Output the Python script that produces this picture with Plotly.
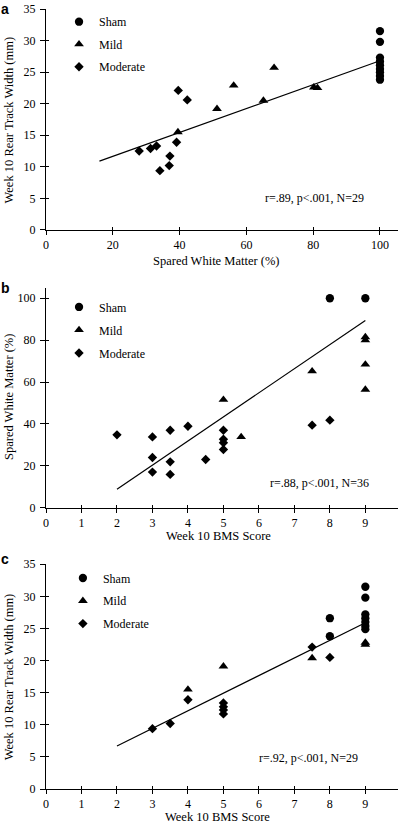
import plotly.graph_objects as go

# ---------------- data ----------------
# Panel a: Spared White Matter (%) vs Week 10 Rear Track Width (mm)
sham_a_x = [100, 100, 100, 100, 100, 100, 100, 100, 100]
sham_a_y = [31.5, 29.8, 27.3, 26.7, 26.1, 25.5, 25.0, 24.4, 23.8]
mild_a_x = [39.5, 51.2, 56.2, 65.1, 68.3, 80.2, 81.3]
mild_a_y = [15.5, 19.2, 22.9, 20.5, 25.7, 22.6, 22.5]
mod_a_x = [39.6, 42.3, 27.9, 31.3, 33.1, 34.1, 37.1, 36.9, 39.1]
mod_a_y = [22.1, 20.6, 12.5, 12.9, 13.3, 9.4, 11.7, 10.2, 13.9]
fit_a_x = [16, 100]
fit_a_y = [10.9, 26.8]

# Panel b: Week 10 BMS Score vs Spared White Matter (%)
sham_b_x = [8, 9]
sham_b_y = [100, 100]
mild_b_x = [9, 9, 9, 9, 7.5, 5, 5.5]
mild_b_y = [81.5, 80, 68.4, 56.4, 65.2, 51.6, 33.8]
mod_b_x = [2, 3, 3, 3, 3.5, 3.5, 3.5, 4, 4.5, 5, 5, 5, 5, 7.5, 8]
mod_b_y = [34.8, 33.8, 24, 17, 37, 21.9, 15.9, 38.9, 23, 37, 32.7, 31, 27.8, 39.4, 41.8]
fit_b_x = [2, 9]
fit_b_y = [8.8, 89.4]

# Panel c: Week 10 BMS Score vs Week 10 Rear Track Width (mm)
sham_c_x = [9, 9, 9, 9, 9, 9, 9, 8, 8]
sham_c_y = [31.5, 29.8, 27.2, 26.6, 26.0, 25.4, 24.9, 26.6, 23.8]
mild_c_x = [9, 9, 7.5, 5, 4]
mild_c_y = [22.5, 22.8, 20.4, 19.1, 15.5]
mod_c_x = [7.5, 8, 4, 3, 3.5, 5, 5, 5, 5]
mod_c_y = [22.1, 20.5, 13.9, 9.4, 10.2, 13.4, 12.8, 12.3, 11.7]
fit_c_x = [2, 9]
fit_c_y = [6.7, 25.9]

group_names = ["Sham", "Mild", "Moderate"]
stats = ["r=.89, p<.001, N=29", "r=.88, p<.001, N=36", "r=.92, p<.001, N=29"]
panel_letters = ["a", "b", "c"]
x_titles = ["Spared White Matter (%)", "Week 10 BMS Score", "Week 10 BMS Score"]
y_titles = ["Week 10 Rear Track Width (mm)", "Spared White Matter (%)", "Week 10 Rear Track Width (mm)"]
xticks_a = [0, 20, 40, 60, 80, 100]
xticks_bms = [0, 1, 2, 3, 4, 5, 6, 7, 8, 9]
yticks_rtw = [0, 5, 10, 15, 20, 25, 30, 35]
yticks_swm = [0, 20, 40, 60, 80, 100]

# ---------------- styling ----------------
SERIF = "Liberation Serif, Times New Roman, Times, serif"
SANS = "Liberation Sans, Arial, Helvetica, sans-serif"
BLACK = "#000000"
symbols = ["circle", "triangle-up", "diamond"]
sizes = [8.3, 8.5, 7.2]

panels = [
    dict(groups=[(sham_a_x, sham_a_y), (mild_a_x, mild_a_y), (mod_a_x, mod_a_y)],
         fit=(fit_a_x, fit_a_y), xr=[0, 105.4], yr=[0, 35], xt=xticks_a, yt=yticks_rtw,
         dom=[0.7167, 1.0], legend="legend", ov=(4, 4)),
    dict(groups=[(sham_b_x, sham_b_y), (mild_b_x, mild_b_y), (mod_b_x, mod_b_y)],
         fit=(fit_b_x, fit_b_y), xr=[0, 9.92], yr=[0, 105], xt=xticks_bms, yt=yticks_swm,
         dom=[0.3606, 0.6426], legend="legend2", ov=(5, 5)),
    dict(groups=[(sham_c_x, sham_c_y), (mild_c_x, mild_c_y), (mod_c_x, mod_c_y)],
         fit=(fit_c_x, fit_c_y), xr=[0, 9.92], yr=[0, 35], xt=xticks_bms, yt=yticks_rtw,
         dom=[0.0, 0.2881], legend="legend3", ov=(6, 6)),
]

fig = go.Figure()
layout = {}

for i, p in enumerate(panels):
    n = i + 1
    xa = "x" if n == 1 else f"x{n}"
    ya = "y" if n == 1 else f"y{n}"
    for (gx, gy), name, sym, sz in zip(p["groups"], group_names, symbols, sizes):
        fig.add_trace(go.Scatter(
            x=gx, y=gy, mode="markers", name=name, xaxis=xa, yaxis=ya,
            legend=p["legend"], legendgroup=f"{p['legend']}_{name}",
            marker=dict(symbol=sym, size=sz, color=BLACK, line=dict(width=0)),
            cliponaxis=False,
        ))
    # regression line drawn on overlay axes (identical ranges) that carry the inside ticks
    ox, oy = p["ov"]
    fig.add_trace(go.Scatter(
        x=p["fit"][0], y=p["fit"][1], mode="lines", showlegend=False,
        xaxis=f"x{ox}", yaxis=f"y{oy}",
        line=dict(color=BLACK, width=1.2),
    ))
    common_x = dict(range=p["xr"], tickmode="array", tickvals=p["xt"], showgrid=False,
                    zeroline=False, fixedrange=True)
    common_y = dict(range=p["yr"], tickmode="array", tickvals=p["yt"], showgrid=False,
                    zeroline=False, fixedrange=True, domain=p["dom"])
    layout[f"xaxis{n}"] = dict(
        **common_x, anchor=ya, domain=[0, 1], showline=True, linecolor=BLACK, linewidth=1,
        ticks="outside", ticklen=4, tickwidth=1, tickcolor=BLACK, ticklabelstandoff=0,
        tickfont=dict(family=SERIF, size=12, color=BLACK),
    )
    layout[f"yaxis{n}"] = dict(
        **common_y, anchor=xa, showline=True, linecolor=BLACK, linewidth=1,
        ticks="outside", ticklen=5, tickwidth=1, tickcolor=BLACK, ticklabelstandoff=2,
        tickfont=dict(family=SERIF, size=12, color=BLACK),
    )
    layout[f"xaxis{ox}"] = dict(
        **common_x, overlaying=xa, anchor=f"y{oy}", domain=[0, 1], showline=False,
        ticks="inside", ticklen=3, tickwidth=1, tickcolor=BLACK, showticklabels=False,
    )
    layout[f"yaxis{oy}"] = dict(
        **common_y, overlaying=ya, anchor=f"x{ox}", showline=False,
        ticks="inside", ticklen=3, tickwidth=1, tickcolor=BLACK, showticklabels=False,
    )

# legends
legend_tops = [1.0023, 0.6366, 0.2891]
legend_x = [0.037, 0.037, 0.048]
legend_gaps = [3.5, 4, 3.8]
for i, key in enumerate(["legend", "legend2", "legend3"]):
    layout[key] = dict(
        x=legend_x[i], y=legend_tops[i], xanchor="left", yanchor="top",
        bgcolor="rgba(0,0,0,0)", borderwidth=0, tracegroupgap=legend_gaps[i],
        font=dict(family=SERIF, size=12, color=BLACK), itemclick=False, itemdoubleclick=False,
    )

annotations = []
letter_y = [1.0115, 0.6427, 0.2946]
letter_anchor = ["top", "middle", "middle"]
stat_pos = [(0.7642, 0.7573), (0.7784, 0.3919), (0.7463, 0.0394)]
ytitle_y = [0.8577, 0.5019, 0.1438]
xtitle_pos = [(0.483, 0.6769), (0.4895, 0.3244), (0.4872, -0.0358)]
for i in range(3):
    annotations.append(dict(text=f"<b>{panel_letters[i]}</b>", x=-0.1307, y=letter_y[i],
                            xref="paper", yref="paper", xanchor="left", yanchor=letter_anchor[i],
                            borderpad=0,
                            showarrow=False, font=dict(family=SANS, size=14, color=BLACK)))
    annotations.append(dict(text=stats[i], x=stat_pos[i][0], y=stat_pos[i][1],
                            xref="paper", yref="paper", xanchor="center", yanchor="middle",
                            showarrow=False, font=dict(family=SERIF, size=12, color=BLACK)))
    annotations.append(dict(text=y_titles[i], x=-0.1065, y=ytitle_y[i], textangle=-90,
                            xref="paper", yref="paper", xanchor="center", yanchor="middle",
                            showarrow=False, font=dict(family=SERIF, size=12.5, color=BLACK)))
    annotations.append(dict(text=x_titles[i], x=xtitle_pos[i][0], y=xtitle_pos[i][1],
                            xref="paper", yref="paper", xanchor="center", yanchor="middle",
                            showarrow=False, font=dict(family=SERIF, size=12.5, color=BLACK)))

fig.update_layout(
    width=400, height=824, autosize=False,
    margin=dict(l=46, r=2, t=9, b=35),
    paper_bgcolor="white", plot_bgcolor="white",
    font=dict(family=SERIF, size=12, color=BLACK),
    annotations=annotations,
    **layout,
)

# remove the default 8px page margin so the 400x824 figure fills the window exactly
fig.write_html("out.html", config={"displayModeBar": False},
               post_script="document.body.style.margin='0';")
